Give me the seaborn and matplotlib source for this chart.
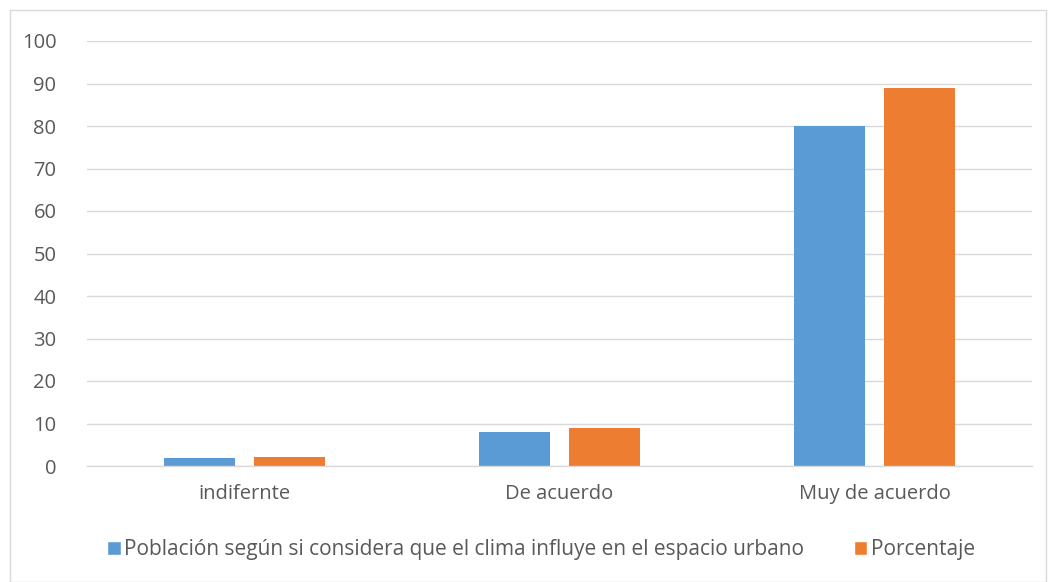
import matplotlib
matplotlib.use("Agg")
import matplotlib.pyplot as plt
import seaborn as sns
import pandas as pd
from matplotlib.patches import Rectangle, Patch

categories = ["indifernte", "De acuerdo", "Muy de acuerdo"]
poblacion = [2, 8, 80]
porcentaje = [2.2, 8.9, 88.9]
series_names = ["Población según si considera que el clima influye en el espacio urbano", "Porcentaje"]
yticks = [0, 10, 20, 30, 40, 50, 60, 70, 80, 90, 100]

df = pd.DataFrame({
    "cat": categories * 2,
    "val": poblacion + porcentaje,
    "serie": [series_names[0]] * 3 + [series_names[1]] * 3,
})

sns.set_theme(style="white")
plt.rcParams["font.family"] = ["Open Sans", "DejaVu Sans"]

fig = plt.figure(figsize=(10.48, 5.82), dpi=100)
ax = fig.add_axes([87/1048, 1 - 466/582, (1032-87)/1048, (466-41)/582])

sns.barplot(data=df, x="cat", y="val", hue="serie", order=categories,
            hue_order=series_names, palette=["#5B9BD5", "#ED7D31"],
            width=0.571, gap=0.21, ax=ax, legend=False, saturation=1,
            linewidth=0)

ax.set_ylim(0, 100)
ax.set_xlim(-0.5, 2.5)
ax.set_yticks(yticks)
ax.set_yticklabels([str(t) for t in yticks], fontsize=14.5, color="#595959")
ax.tick_params(axis="x", labelsize=14.5, labelcolor="#595959", length=0, pad=13)
ax.tick_params(axis="y", length=0, pad=22)
ax.set_xlabel("")
ax.set_ylabel("")
ax.grid(axis="y", color="#D9D9D9", linewidth=1)
ax.set_axisbelow(True)
for s in ["top", "right", "left"]:
    ax.spines[s].set_visible(False)
ax.spines["bottom"].set_color("#D9D9D9")
ax.spines["bottom"].set_linewidth(1)

handles = [Patch(facecolor="#5B9BD5"), Patch(facecolor="#ED7D31")]
fig.legend(handles, series_names, loc="center", bbox_to_anchor=(541/1048, 1 - 550/582),
           ncol=2, frameon=False, fontsize=15, handlelength=0.65, handleheight=0.65,
           handletextpad=0.15, columnspacing=2.4, labelcolor="#595959")

fig.patches.append(Rectangle((10/1048, 0.0), 1 - 12/1048, 1 - 10/582, transform=fig.transFigure,
                             fill=False, edgecolor="#D9D9D9", linewidth=1))

fig.savefig("out.png", dpi=100)
